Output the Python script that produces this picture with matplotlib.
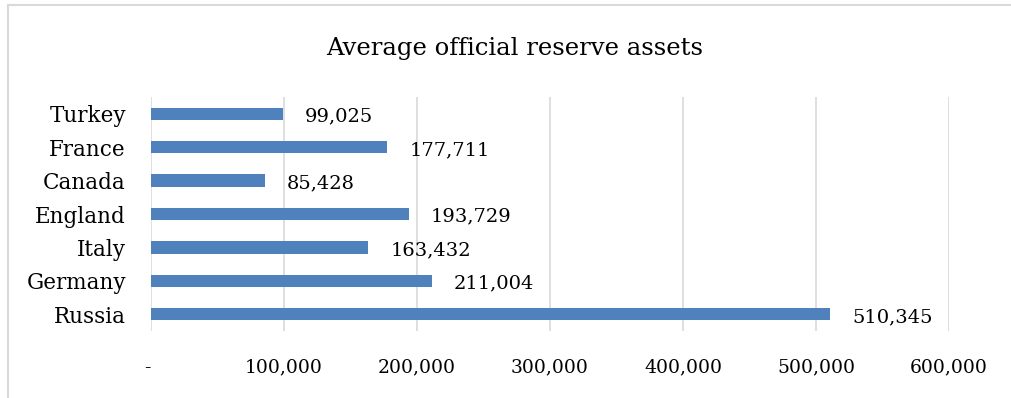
import matplotlib.pyplot as plt
from matplotlib.lines import Line2D

countries = ["Russia", "Germany", "Italy", "England", "Canada", "France", "Turkey"]
reserves = [510345, 211004, 163432, 193729, 85428, 177711, 99025]
ticks = [0, 100000, 200000, 300000, 400000, 500000, 600000]
tick_labels = ["-", "100,000", "200,000", "300,000", "400,000", "500,000", "600,000"]

plt.rcParams['font.family'] = ['DejaVu Serif']

fig = plt.figure(figsize=(10.11, 3.98), dpi=100)
ax = fig.add_axes([151 / 1011, 1 - 331 / 398, 798 / 1011, 234 / 398])

ax.barh(countries, reserves, height=0.37, color="#4F81BD", zorder=3)
for i, v in enumerate(reserves):
    ax.annotate(f"{v:,}", (v, i), xytext=(16, -2), textcoords="offset points",
                va="center", ha="left", fontsize=14, color="#000000")

ax.set_xlim(0, 600000)
ax.set_ylim(-0.5, len(countries) - 0.5)
ax.set_xticks(ticks)
ax.set_xticklabels(tick_labels, fontsize=13.5)
ax.get_xticklabels()[0].set_ha("right")
ax.tick_params(axis="x", length=0, pad=20)
ax.tick_params(axis="y", length=0, pad=18, labelsize=15.5)
ax.grid(axis="x", color="#D9D9D9", linewidth=1.2, zorder=0)
for s in ax.spines.values():
    s.set_visible(False)

fig.suptitle("Average official reserve assets", x=515 / 1011, y=1 - 48 / 398,
             va="center", fontsize=17.5)

# light gray chart border (left and top)
fig.add_artist(Line2D([8 / 1011, 8 / 1011], [0, 1 - 5 / 398], transform=fig.transFigure,
                      color="#D9D9D9", linewidth=1.5))
fig.add_artist(Line2D([8 / 1011, 1], [1 - 5 / 398, 1 - 5 / 398], transform=fig.transFigure,
                      color="#D9D9D9", linewidth=1.5))

fig.savefig("out.png", dpi=100)
